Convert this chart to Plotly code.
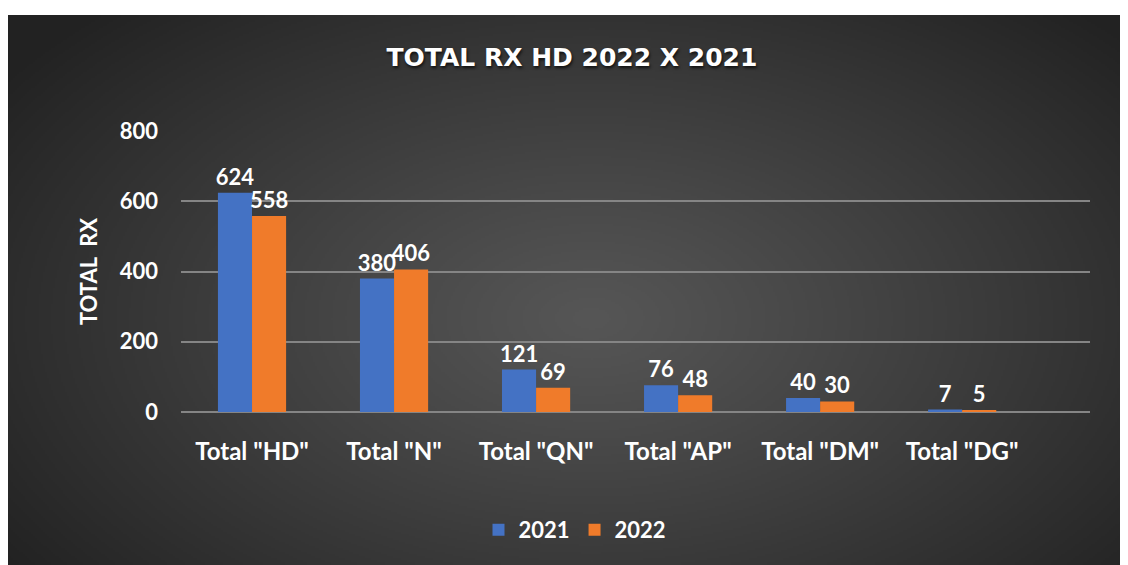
import base64, struct, zlib
import numpy as np
import plotly.graph_objects as go

categories = ['Total "HD"', 'Total "N"', 'Total "QN"', 'Total "AP"', 'Total "DM"', 'Total "DG"']
values_2021 = [624, 380, 121, 76, 40, 7]
values_2022 = [558, 406, 69, 48, 30, 5]
series_names = ["2021", "2022"]
y_ticks = [0, 200, 400, 600, 800]

FONT = "Lato"
FIG_W, FIG_H = 1120, 557  # page body has an 8px margin


def make_png(arr):
    h, w, _ = arr.shape
    raw = b"".join(b"\x00" + arr[i].tobytes() for i in range(h))

    def chunk(tag, data):
        c = tag + data
        return struct.pack(">I", len(data)) + c + struct.pack(">I", zlib.crc32(c) & 0xFFFFFFFF)

    png = b"\x89PNG\r\n\x1a\n"
    png += chunk(b"IHDR", struct.pack(">IIBBBBB", w, h, 8, 2, 0, 0, 0))
    png += chunk(b"IDAT", zlib.compress(raw, 9))
    png += chunk(b"IEND", b"")
    return "data:image/png;base64," + base64.b64encode(png).decode()


W, H = 560, 275
yy, xx = np.mgrid[0:H, 0:W]
cx, cy = 0.52 * W, 0.55 * H
r = np.sqrt(((xx - cx) / (0.62 * W)) ** 2 + ((yy - cy) / (0.75 * H)) ** 2)
val = np.clip(86 - 50 * np.clip(r, 0, 1.2) ** 1.1, 34, 90).astype(np.uint8)
bg = np.stack([val, val, val], axis=-1)
bg_uri = make_png(bg)

label_font = dict(family=FONT, size=22, color="white", weight="bold")

fig = go.Figure()
fig.add_trace(go.Bar(
    x=categories, y=values_2021, name=series_names[0],
    marker=dict(color="#4472C4", line=dict(width=0)),
    text=values_2021, textposition="outside", cliponaxis=False,
    constraintext="none", textfont=label_font,
))
fig.add_trace(go.Bar(
    x=categories, y=values_2022, name=series_names[1],
    marker=dict(color="#F07B2A", line=dict(width=0)),
    text=values_2022, textposition="outside", cliponaxis=False,
    constraintext="none", textfont=label_font,
))

px_left, px_right, px_top, px_bottom = 173, 1082, 123, 404
pw, ph = px_right - px_left, px_bottom - px_top

fig.add_layout_image(dict(
    source=bg_uri, xref="paper", yref="paper",
    x=(0 - px_left) / pw, y=(px_bottom - 7) / ph,
    sizex=(FIG_W - 0) / pw, sizey=(FIG_H - 7) / ph,
    xanchor="left", yanchor="top", sizing="stretch", layer="below",
))

fig.update_layout(
    width=FIG_W, height=FIG_H,
    margin=dict(l=px_left, r=FIG_W - px_right, t=px_top, b=FIG_H - px_bottom),
    paper_bgcolor="white", plot_bgcolor="rgba(0,0,0,0)",
    barmode="group", bargap=0.52, bargroupgap=0.0,
    font=dict(family=FONT, color="white", weight="bold"),
    title=dict(
        text="TOTAL RX HD 2022 X 2021", x=564 / FIG_W, xanchor="center",
        y=1 - 49 / FIG_H, yanchor="middle", yref="container",
        font=dict(family="DejaVu Sans", size=25, color="white", weight="bold",
                  shadow="1px 2px 3px rgba(0,0,0,0.7)"),
    ),
    xaxis=dict(
        range=[-0.5, 5.9], showgrid=False, zeroline=False, showline=False,
        ticks="", tickfont=dict(family=FONT, size=24, color="white", weight="bold"),
        ticklabelstandoff=23,
    ),
    yaxis=dict(
        range=[0, 800], tickvals=y_ticks, showgrid=True, gridcolor="#858585", gridwidth=2,
        zeroline=True, zerolinecolor="#858585", zerolinewidth=2, showline=False, ticks="",
        tickfont=dict(family=FONT, size=22, color="white", weight="bold"),
        ticklabelstandoff=22,
        title=dict(text="TOTAL  RX", standoff=16,
                   font=dict(family=FONT, size=22, color="white", weight="bold")),
    ),
    legend=dict(
        orientation="h", x=(567 - px_left) / pw, xanchor="center",
        y=(px_bottom - 522) / ph, yanchor="middle",
        font=dict(family=FONT, size=22, color="white", weight="bold"),
        bgcolor="rgba(0,0,0,0)", itemwidth=30,
    ),
)

fig.write_html("out.html")
